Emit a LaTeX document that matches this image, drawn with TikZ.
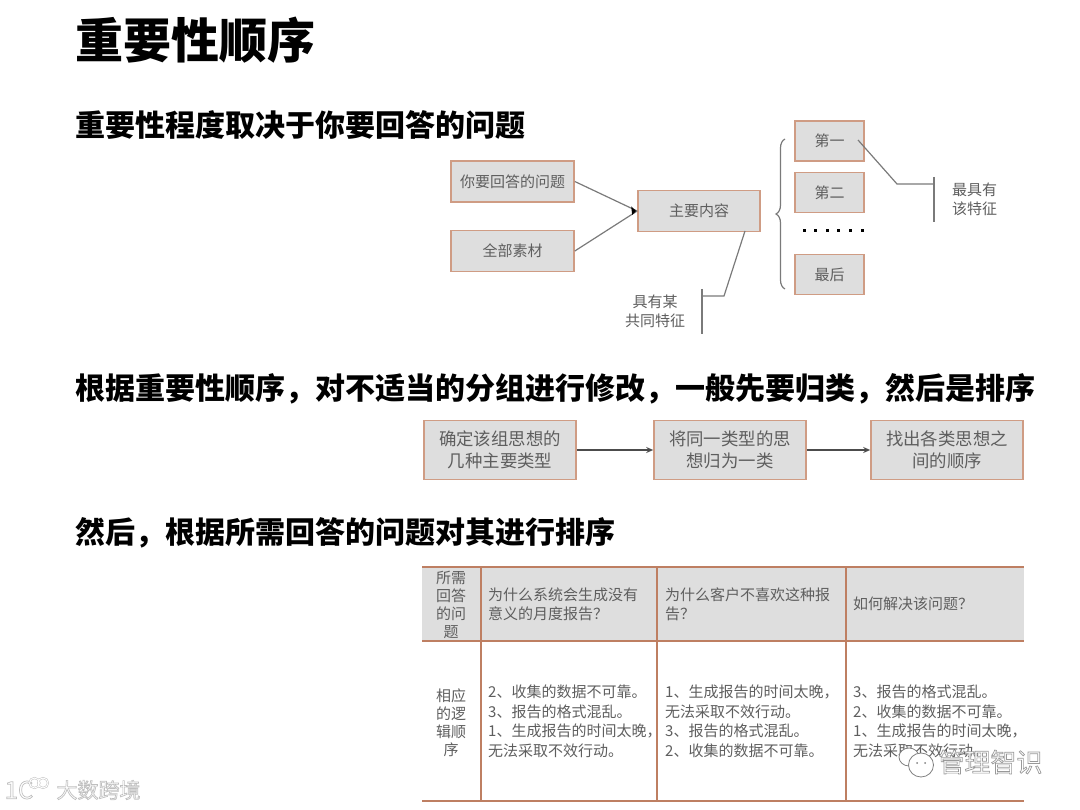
\documentclass[tikz,border=0pt]{standalone}
\usepackage{fontspec}
\setmainfont{Noto Sans CJK SC}
\usepackage{xcolor}
\usetikzlibrary{calc, arrows.meta, decorations.pathreplacing}
\definecolor{boxline}{HTML}{CF9C84}
\definecolor{boxfill}{HTML}{DEDEDE}
\definecolor{tabline}{HTML}{BE7F62}
\definecolor{softtext}{HTML}{5E5E5E}
\definecolor{leaderline}{HTML}{7A7A7A}
\newcommand{\outlined}[2]{\special{pdf:code 2 Tr #1 G 1 g 0.7 w}#2\special{pdf:code 0 Tr 0 g 0 G 1 w}}

\begin{document}
\begin{tikzpicture}[
    x=1pt, y=-1pt,
    title/.style={anchor=west, inner sep=0pt, font=\fontsize{48}{54}\selectfont\bfseries},
    heading/.style={anchor=west, inner sep=0pt, font=\fontsize{30}{36}\selectfont\bfseries},
    box/.style={rectangle, draw=boxline, line width=1.6pt, fill=boxfill, inner sep=0pt, text=softtext,
        align=center, font=\fontsize{15}{20}\selectfont},
    bigbox/.style={box, minimum width=152pt, minimum height=59pt, font=\fontsize{17.4}{22.5}\selectfont},
    note/.style={inner sep=0pt, text=softtext, align=center, font=\fontsize{15}{19}\selectfont},
    cell/.style={anchor=west, inner sep=0pt, text=softtext, align=left, font=\fontsize{15}{19.5}\selectfont},
    sidecell/.style={inner sep=0pt, text=softtext, align=center, font=\fontsize{15}{18}\selectfont},
    leader/.style={draw=leaderline, line width=1.2pt},
    tabrule/.style={draw=tabline, line width=1.4pt},
    marktext/.style={inner sep=0pt}
]
    \useasboundingbox (0,0) rectangle (1080,810);

    % --- 1. Headings ---
    \node[title] (maintitle) at (75, 40) {重要性顺序};
    \node[heading] (headone) at (75, 124.5) {重要性程度取决于你要回答的问题};
    \node[heading] (headtwo) at (75, 388.5) {根据重要性顺序，对不适当的分组进行修改，一般先要归类，然后是排序};
    \node[heading] (headthree) at (75, 532.5) {然后，根据所需回答的问题对其进行排序};

    % --- 2. Upper Diagram ---
    \node[box, minimum width=123pt, minimum height=41pt] (question) at (512.5, 181.5) {你要回答的问题};
    \node[box, minimum width=123pt, minimum height=41pt] (material) at (512.5, 251) {全部素材};
    \node[box, minimum width=122pt, minimum height=41pt] (content) at (699, 211) {主要内容};
    \node[box, minimum width=69pt, minimum height=40pt] (first) at (829.5, 141) {第一};
    \node[box, minimum width=69pt, minimum height=40pt] (second) at (829.5, 192.5) {第二};
    \node[box, minimum width=69pt, minimum height=40pt] (last) at (829.5, 274.5) {最后};

    \foreach \x in {0,...,5}
        \fill (804+\x*11.6-1.5, 229) rectangle +(3, 3);

    \coordinate (bracetop) at (785, 139);
    \coordinate (bracebot) at (785, 289);
    \draw[leader, decorate, decoration={brace, amplitude=9pt}] (bracebot) -- (bracetop);

    \draw[leader] (question.east) -- (content.west);
    \draw[leader] (material.east) -- (content.west);
    \fill[black] (content.west) +(-1,0) -- +(-6,-4.5) -- +(-5,4) -- cycle;

    % --- 3. Leader Lines ---
    \coordinate (firstin) at (858, 140);
    \coordinate (barone) at (934, 184);
    \coordinate (bartop) at (934, 177);
    \coordinate (barbot) at (934, 222);
    \coordinate (contentout) at (745, 231);
    \coordinate (bartwo) at (702, 296);
    \coordinate (bartwotop) at (702, 289);
    \coordinate (bartwobot) at (702, 334);
    \draw[leader] (firstin) -- (897, 184) -- (barone);
    \draw[leader] (bartop) -- (barbot);
    \draw[leader] (contentout) -- (724, 296) -- (bartwo);
    \draw[leader] (bartwotop) -- (bartwobot);
    \node[note] (noteone) at (974.5, 199) {最具有\\该特征};
    \node[note] (notetwo) at (655, 311) {具有某\\共同特征};

    % --- 4. Middle Diagram ---
    \node[bigbox] (stepa) at (500, 450) {确定该组思想的\\几种主要类型};
    \node[bigbox] (stepb) at (730, 450) {将同一类型的思\\想归为一类};
    \node[bigbox] (stepc) at (947, 450) {找出各类思想之\\间的顺序};
    \draw[-{Stealth[length=7pt, width=6pt]}, line width=1.2pt, draw=black!70] (stepa) -- (stepb);
    \draw[-{Stealth[length=7pt, width=6pt]}, line width=1.2pt, draw=black!70] (stepb) -- (stepc);

    % --- 5. Table ---
    \fill[boxfill] (422, 567) rectangle (1024, 641);
    \coordinate (ruleal) at (422, 567);
    \coordinate (ruleae) at (1024, 567);
    \coordinate (rulebl) at (422, 641);
    \coordinate (rulebe) at (1024, 641);
    \coordinate (rulecl) at (422, 801);
    \coordinate (rulece) at (1024, 801);
    \draw[tabrule, line width=2pt] (ruleal) -- (ruleae);
    \draw[tabrule] (rulebl) -- (rulebe);
    \draw[tabrule, line width=2pt] (rulecl) -- (rulece);
    \foreach \x/\n in {481/a, 657/b, 846/c} {
        \coordinate (col\n top) at (\x, 567);
        \coordinate (col\n bot) at (\x, 801);
        \draw[tabrule] (col\n top) -- (col\n bot);
    }

    \node[sidecell] (askhead) at (451, 605) {所需\\回答\\的问\\题};
    \node[cell] (askone) at (488, 604.5) {为什么系统会生成没有\\意义的月度报告？};
    \node[cell] (asktwo) at (665, 604.5) {为什么客户不喜欢这种报\\告？};
    \node[cell] (askthree) at (853, 604) {如何解决该问题？};

    \node[sidecell] (orderhead) at (451, 723) {相应\\的逻\\辑顺\\序};
    \node[cell] (orderone) at (488, 721.5) {2、收集的数据不可靠。\\3、报告的格式混乱。\\1、生成报告的时间太晚，\\无法采取不效行动。};
    \node[cell] (ordertwo) at (665, 721.5) {1、生成报告的时间太晚，\\无法采取不效行动。\\3、报告的格式混乱。\\2、收集的数据不可靠。};
    \node[cell] (orderthree) at (853, 721.5) {3、报告的格式混乱。\\2、收集的数据不可靠。\\1、生成报告的时间太晚，\\无法采取不效行动。};

    % --- 6. Watermarks ---
    \node[marktext, font=\fontsize{26}{30}\selectfont] (markright) at (990.5, 762) {\outlined{0.6}{管理智识}};
    \draw[black!50, fill=white, line width=0.8pt] (909, 757) ellipse (10pt and 9pt);
    \draw[black!50, fill=white, line width=0.8pt] (921, 765) ellipse (12.5pt and 12pt);
    \fill[black!50] (917, 763) circle (1pt) (925, 763) circle (1pt);

    \node[marktext, font=\fontsize{21}{24}\selectfont] (markleft) at (98.5, 790) {\outlined{0.75}{大数跨境}};
    \node[marktext, font=\fontsize{24}{24}\selectfont] (marklogo) at (19, 790) {\outlined{0.75}{1C}};
    \draw[black!25, line width=2pt] (34.5, 783) circle (5pt) (43, 783) circle (5pt);
    \draw[white, line width=1pt] (34.5, 783) circle (5pt) (43, 783) circle (5pt);
\end{tikzpicture}
\end{document}
